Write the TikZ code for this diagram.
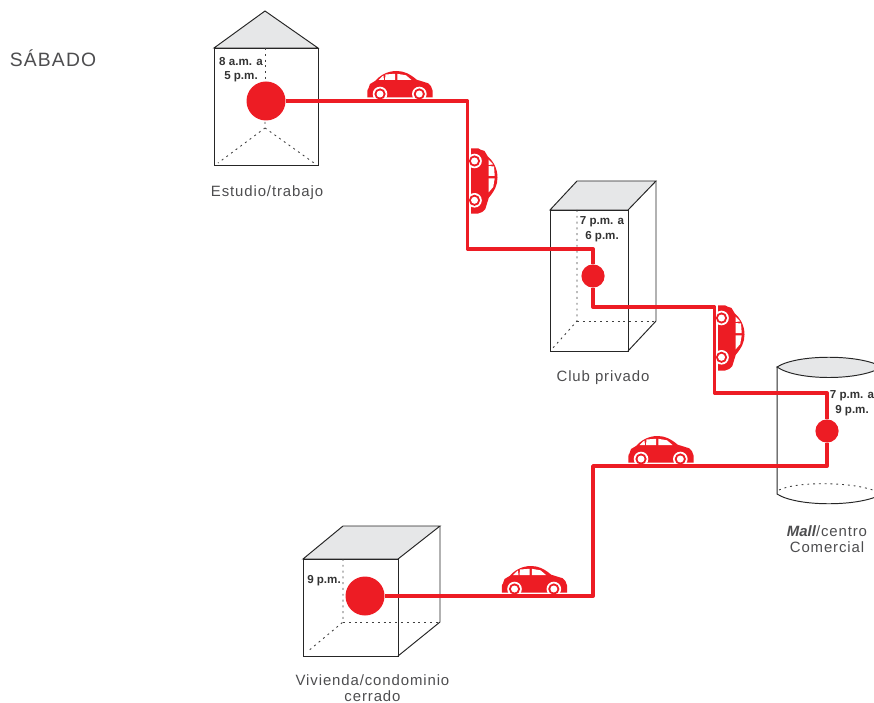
\documentclass[tikz,border=0pt]{standalone}
\usepackage{fontspec}
\setmainfont{Liberation Sans}
\newfontfamily\placefont[LetterSpace=6]{Liberation Sans}
\usepackage{xcolor}
\definecolor{routered}{HTML}{ED1C24}
\definecolor{roofgray}{HTML}{E6E7E8}
\definecolor{textgray}{HTML}{4D4D4F}
\tikzset{
  wall/.style={line width=0.55pt,draw=black!85},
  roof/.style={wall,fill=roofgray},
  hidden/.style={line width=0.5pt,black!75,dash pattern=on 1.1pt off 2.2pt},
  route/.style={routered,line width=2.2pt,line join=round},
  bigstop/.style={circle,fill=routered,minimum size=22.2pt,inner sep=0pt},
  smallstop/.style={circle,fill=routered,minimum size=13.2pt,inner sep=0pt},
  hourtext/.style={font=\bfseries\fontsize{6.6}{8.3}\selectfont,text=black!80,align=center,inner sep=0pt},
  placetext/.style={font=\placefont\fontsize{8.5}{9.2}\selectfont,text=textgray,align=center,inner sep=0pt},
  pics/redcar/.style={code={
    \fill[routered] (-32.7,-3.5)--(-32.5,-11)--(-31.5,-12.7)--(-30,-17)--(-25,-20)
      .. controls (-20,-25.5) and (-13,-30) .. (-3.3,-30)
      .. controls (4,-30) and (10,-27) .. (16.7,-21.3)
      --(28.3,-17.7)--(31,-14.7)--(32.7,-10)--(32.7,-3.5)--cycle;
    \fill[white] (-21.5,-21)--(-16.6,-25.6)--(-16,-21)--cycle;
    \fill[white] (-15,-21)--(-14.5,-26.5)--(-5,-27.2)--(-5,-21)--cycle;
    \fill[white] (-2.7,-21)--(-2.7,-27.2)--(6,-25.7)--(11.5,-21)--cycle;
    \foreach \wheelx in {-20,19.3}{
      \fill[white] (\wheelx,-7) circle (7.3);
      \fill[routered] (\wheelx,-7) circle (5.6);
      \fill[white] (\wheelx,-7) circle (3.5);
    }
  }}
}

\begin{document}
\begin{tikzpicture}[x=0.02cm,y=-0.02cm]
\useasboundingbox (0,0) rectangle (874,702);
\node[font=\placefont\fontsize{11}{13}\selectfont,text=textgray,inner sep=0pt] (dia) at (53,58.5) {SÁBADO};

% house
\draw[roof] (214,48)--(265,11)--(318,48)--cycle;
\draw[wall] (214,48) rectangle (318,165);
\draw[hidden] (265,48)--(265,82);
\draw[hidden] (265,122)--(265,128)--(218,163);
\draw[hidden] (265,128)--(314,163);

% tall block
\draw[roof] (550,210)--(577,181)--(656,181)--(628,210)--cycle;
\draw[wall] (550,210) rectangle (628,351);
\draw[wall] (656,181)--(656,321)--(628,351);
\draw[hidden] (577,210)--(577,321)--(552,349);
\draw[hidden] (577,321)--(656,321);

% cylinder
\draw[wall,fill=roofgray] (777,367) .. controls (797,354) and (860,354) .. (882,367)
  .. controls (860,381) and (797,381) .. cycle;
\draw[wall] (777,367)--(777,494) .. controls (797,507) and (860,507) .. (882,494)--(882,367);
\draw[hidden] (779,490) .. controls (797,481) and (860,481) .. (882,494);

% cube
\draw[roof] (303,559)--(343,526)--(440,526)--(398,559)--cycle;
\draw[wall] (303,559) rectangle (398,656);
\draw[wall] (440,526)--(440,622)--(398,656);
\draw[hidden] (343,559)--(343,622)--(307,652);
\draw[hidden] (343,622)--(440,622);

% cars
\pic at (400,101) {redcar};
\pic[rotate=-90] at (467.5,181) {redcar};
\pic[rotate=-90] at (714.5,338) {redcar};
\pic at (661,466) {redcar};
\pic at (534.5,596) {redcar};

% stops
\node[bigstop] (estudio) at (266,101) {};
\node[smallstop] (club) at (593,276) {};
\node[smallstop] (mall) at (827,431) {};
\node[bigstop] (vivienda) at (365,596) {};

\coordinate (giroa) at (467.5,101);
\coordinate (girob) at (467.5,249);
\coordinate (giroc) at (593,249);
\coordinate (girod) at (593,307);
\coordinate (giroe) at (714.5,307);
\coordinate (girof) at (714.5,393);
\coordinate (girog) at (827,393);
\coordinate (giroh) at (827,466);
\coordinate (giroi) at (593,466);
\coordinate (giroj) at (593,596);
\draw[route] (estudio)--(giroa)--(girob)--(giroc)--(club);
\draw[route] (club)--(girod)--(giroe)--(girof)--(girog)--(mall);
\draw[route] (mall)--(giroh)--(giroi)--(giroj)--(vivienda);

% hours
\node[hourtext] (horaa) at (241,69.5) {8 a.m. a\\5 p.m.};
\node[hourtext] (horab) at (602,229) {7 p.m. a\\6 p.m.};
\node[hourtext] (horac) at (852,403) {7 p.m. a\\9 p.m.};
\node[hourtext] (horad) at (324,581) {9 p.m.};

% places
\node[placetext] (estudiotxt) at (267,193) {Estudio/trabajo};
\node[placetext] (clubtxt) at (603,377.5) {Club privado};
\node[placetext] (malltxt) at (827,539) {{\fontspec{Liberation Sans}\bfseries\itshape Mall}/centro\\Comercial};
\node[placetext] (viviendatxt) at (372.5,688) {Vivienda/condominio\\cerrado};
\end{tikzpicture}
\end{document}
